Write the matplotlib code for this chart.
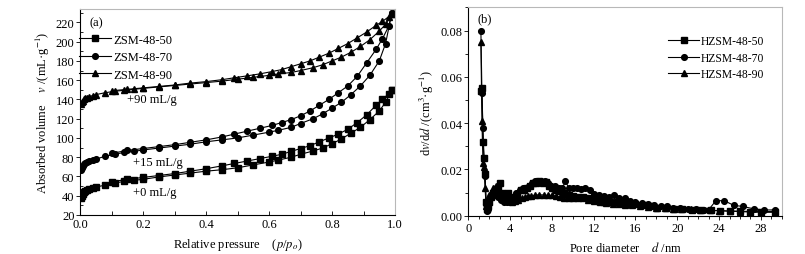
"""
Recreate N2 adsorption isotherms (a) and pore size distribution (b)
"""
import matplotlib
matplotlib.use("Agg")
import matplotlib.pyplot as plt
from matplotlib.ticker import MultipleLocator, FormatStrFormatter

plt.rcParams["font.family"] = ["Liberation Serif", "DejaVu Serif"]
plt.rcParams["mathtext.fontset"] = "stix"
plt.rcParams["font.size"] = 9

# ===== (a) isotherms: adsorption / desorption branches =====
ads_p = [0.002, 0.005, 0.008, 0.012, 0.017, 0.023, 0.03, 0.04, 0.05, 0.08, 0.11, 0.14,
         0.17, 0.2, 0.25, 0.3, 0.35, 0.4, 0.45, 0.5, 0.55, 0.6, 0.63, 0.67, 0.7, 0.74,
         0.77, 0.8, 0.83, 0.86, 0.89, 0.92, 0.95, 0.97, 0.99]
des_p = [0.99, 0.98, 0.96, 0.94, 0.91, 0.88, 0.85, 0.82, 0.79, 0.76, 0.73, 0.7, 0.67,
         0.64, 0.61, 0.57, 0.53, 0.49, 0.45, 0.4, 0.35, 0.3, 0.25, 0.2, 0.15, 0.1]

zsm50_ads = [38, 40, 42, 43.5, 45, 46, 47, 48, 49, 51, 53, 55, 56, 57, 59.5, 61.5, 63.5,
             65.5, 67, 69, 72, 75, 77, 80, 83, 86.5, 89.5, 94, 99, 105, 111, 119, 128, 137, 150]
zsm50_des = [150, 146, 140, 134, 124, 116, 109, 104, 100, 96, 92, 89, 86, 83, 81, 78.5,
             76, 73.5, 71, 68, 65.5, 63, 61, 59, 57, 54.5]

zsm70_ads = [67, 69, 71, 72.5, 74, 75, 76, 77, 78, 81, 83, 85, 86, 87.5, 89.5, 91.5, 93.5,
             96, 98, 100, 103, 106, 108, 111, 115, 120, 125, 131, 137, 145, 154, 165, 180, 198, 230]
zsm70_des = [230, 216, 203, 192, 178, 164, 154, 147, 140, 134, 128, 123, 119, 116, 113,
             110, 107, 104, 101, 98, 95.5, 93, 91, 89, 87, 84]

zsm90_ads = [135, 137, 138.5, 140, 141, 142, 143, 144, 145, 147, 148.5, 149.5, 150.5, 151.5,
             153, 154.5, 156, 157.5, 159, 161, 163, 165, 166.5, 168, 170, 173, 176, 180,
             184, 189, 195, 202, 211, 218, 229]
zsm90_des = [229, 226, 221, 217, 210, 204, 198, 193, 188, 184, 180, 177, 174, 171, 169,
             166.5, 164.5, 162.5, 160.5, 158.5, 157, 155, 153.5, 152, 150.5, 149]

iso_labels = ["ZSM-48-50", "ZSM-48-70", "ZSM-48-90"]
offset_labels = ["+0 mL/g", "+15 mL/g", "+90 mL/g"]

# ===== (b) pore size distribution =====
d50 = [1.2, 1.3, 1.4, 1.5, 1.6, 1.7, 1.8, 1.9, 2.0, 2.2, 2.4, 2.6, 2.8, 3.0, 3.2, 3.5, 3.8,
       4.1, 4.4, 4.7, 5.0, 5.3, 5.6, 5.9, 6.2, 6.5, 6.8, 7.1, 7.4, 7.7, 8.0, 8.4, 8.8, 9.2,
       9.6, 10.0, 10.5, 11.0, 11.5, 12.0, 12.5, 13.0, 13.6, 14.2, 14.8, 15.4, 16.0, 16.7,
       17.4, 18.1, 18.9, 19.7, 20.5, 21.4, 22.3, 23.2, 24.1, 25.0, 26.0, 27.0, 28.0, 29.4]
v50 = [0.054, 0.055, 0.032, 0.025, 0.018, 0.006, 0.003, 0.004, 0.006, 0.008, 0.010, 0.011,
       0.012, 0.014, 0.010, 0.009, 0.010, 0.008, 0.007, 0.009, 0.011, 0.011, 0.012, 0.013,
       0.014, 0.014, 0.015, 0.014, 0.0145, 0.013, 0.012, 0.011, 0.0105, 0.010, 0.009,
       0.0085, 0.0082, 0.008, 0.0078, 0.007, 0.0065, 0.006, 0.006, 0.0058, 0.0055, 0.0052,
       0.005, 0.0045, 0.004, 0.0035, 0.0033, 0.003, 0.0028, 0.0026, 0.0025, 0.0023, 0.0022,
       0.002, 0.002, 0.0018, 0.0018, 0.0018]

d70 = [1.2, 1.3, 1.4, 1.5, 1.6, 1.7, 1.8, 1.9, 2.0, 2.2, 2.5, 2.8, 3.1, 3.4, 3.7, 4.0, 4.3,
       4.6, 4.9, 5.2, 5.5, 5.8, 6.1, 6.4, 6.7, 7.0, 7.3, 7.6, 7.9, 8.3, 8.7, 9.0, 9.3, 9.6,
       10.0, 10.4, 10.8, 11.2, 11.6, 12.0, 12.5, 13.0, 13.5, 13.9, 14.4, 15.0, 15.5, 16.0,
       16.6, 17.2, 17.8, 18.4, 19.0, 19.6, 20.3, 21.0, 21.8, 22.6, 23.0, 23.7, 24.5, 25.4,
       26.3, 27.3, 28.3, 29.4]
v70 = [0.080, 0.053, 0.038, 0.025, 0.017, 0.005, 0.002, 0.003, 0.006, 0.008, 0.009, 0.008,
       0.007, 0.006, 0.006, 0.006, 0.008, 0.010, 0.011, 0.012, 0.012, 0.013, 0.014, 0.015,
       0.015, 0.015, 0.015, 0.014, 0.013, 0.013, 0.012, 0.012, 0.015, 0.012, 0.012, 0.012,
       0.0115, 0.012, 0.011, 0.0095, 0.009, 0.0085, 0.008, 0.009, 0.0075, 0.0075, 0.0065,
       0.006, 0.0055, 0.005, 0.0045, 0.0043, 0.004, 0.0035, 0.0032, 0.003, 0.0028, 0.0025,
       0.0026, 0.0065, 0.0065, 0.0045, 0.004, 0.003, 0.0025, 0.0025]

d90 = [1.2, 1.3, 1.4, 1.5, 1.6, 1.7, 1.8, 1.9, 2.0, 2.2, 2.4, 2.6, 2.8, 3.0, 3.3, 3.6, 3.9,
       4.2, 4.5, 4.8, 5.1, 5.4, 5.7, 6.0, 6.4, 6.8, 7.2, 7.6, 8.0, 8.4, 8.8, 9.2, 9.6, 10.0,
       10.5, 11.0, 11.5, 12.0, 12.6, 13.2, 13.8, 14.4, 15.0, 15.7, 16.4, 17.2, 18.0, 18.8,
       19.6, 20.4, 21.3, 22.2, 23.1, 24.0, 25.0, 26.0, 27.0, 28.0, 29.4]
v90 = [0.075, 0.041, 0.023, 0.021, 0.012, 0.004, 0.003, 0.006, 0.009, 0.010, 0.012, 0.013,
       0.011, 0.009, 0.008, 0.007, 0.0065, 0.006, 0.0065, 0.007, 0.0075, 0.008, 0.0085,
       0.0085, 0.009, 0.009, 0.009, 0.0088, 0.0088, 0.0085, 0.008, 0.0078, 0.0078, 0.0077,
       0.0075, 0.0075, 0.007, 0.0065, 0.006, 0.0055, 0.005, 0.005, 0.0047, 0.0045, 0.004,
       0.0038, 0.0035, 0.0032, 0.003, 0.003, 0.0028, 0.0025, 0.0023, 0.0022, 0.002, 0.0018,
       0.0016, 0.0015, 0.0015]

psd_labels = ["HZSM-48-50", "HZSM-48-70", "HZSM-48-90"]

markers = ["s", "o", "^"]
msizes = [3.7, 4.1, 4.4]

fig = plt.figure(figsize=(8.05, 2.55), dpi=100)
ax1 = fig.add_axes([0.0994, 0.153, 0.3913, 0.808])
ax2 = fig.add_axes([0.5818, 0.150, 0.3893, 0.817])

# ===== 图 (a) =====
ads_sets = [zsm50_ads, zsm70_ads, zsm90_ads]
des_sets = [zsm50_des, zsm70_des, zsm90_des]
for ads, des, mk, ms, lab in zip(ads_sets, des_sets, markers, msizes, iso_labels):
    ax1.plot(ads_p, ads, color="black", lw=0.8, marker=mk, ms=ms, label=lab)
    ax1.plot(des_p, des, color="black", lw=0.8, marker=mk, ms=ms)

ax1.set_xlim(0, 1.0)
ax1.set_ylim(20, 234)
ax1.xaxis.set_major_locator(MultipleLocator(0.2))
ax1.xaxis.set_minor_locator(MultipleLocator(0.1))
ax1.yaxis.set_major_locator(MultipleLocator(20))
ax1.yaxis.set_minor_locator(MultipleLocator(10))
ax1.xaxis.set_major_formatter(FormatStrFormatter("%.1f"))
ax1.tick_params(axis="x", which="both", direction="in", length=3, width=0.6, labelsize=9, pad=2.5)
ax1.tick_params(axis="y", which="major", direction="out", length=3, width=0.6, labelsize=9, pad=1)
ax1.tick_params(axis="y", which="minor", direction="in", length=2, width=0.6)
ax1.set_xlabel(r"Relative pressure    ($p$/$p_o$)", fontsize=9, labelpad=4)
ax1.set_ylabel(r"Absorbed volume    $v$ /(mL·g$^{-1}$)", fontsize=9, labelpad=3)
ax1.text(0.03, 0.965, "(a)", transform=ax1.transAxes, fontsize=9, va="top")

ax1.text(0.168, 44, offset_labels[0], fontsize=9, va="center")
ax1.text(0.168, 75, offset_labels[1], fontsize=9, va="center")
ax1.text(0.149, 140.5, offset_labels[2], fontsize=9, va="center")

ax1.legend(loc="upper left", bbox_to_anchor=(-0.02, 0.905), frameon=False, fontsize=9,
           handlelength=2.6, handletextpad=0.15, labelspacing=0.45, borderaxespad=0)

# ===== 图 (b) =====
psd_x = [d50, d70, d90]
psd_y = [v50, v70, v90]
for x, y, mk, ms, lab in zip(psd_x, psd_y, markers, msizes, psd_labels):
    ax2.plot(x, y, color="black", lw=0.8, marker=mk, ms=ms, label=lab)

ax2.set_xlim(0, 30)
ax2.set_ylim(0, 0.09)
ax2.xaxis.set_major_locator(MultipleLocator(4))
ax2.xaxis.set_minor_locator(MultipleLocator(1))
ax2.yaxis.set_major_locator(MultipleLocator(0.02))
ax2.yaxis.set_minor_locator(MultipleLocator(0.01))
ax2.yaxis.set_major_formatter(FormatStrFormatter("%.2f"))
ax2.tick_params(axis="both", which="major", direction="out", length=3, width=0.6, labelsize=9, pad=1.5)
ax2.tick_params(axis="both", which="minor", direction="out", length=2, width=0.6)
ax2.set_xlabel(r"Pore diameter    $d$ /nm", fontsize=9, labelpad=4)
ax2.set_ylabel(r"d$v$/d$d$ /(cm$^3$·g$^{-1}$)", fontsize=9, labelpad=3)
ax2.text(0.03, 0.975, "(b)", transform=ax2.transAxes, fontsize=9, va="top")

ax2.legend(loc="upper right", bbox_to_anchor=(0.96, 0.89), frameon=False, fontsize=8.4,
           handlelength=2.6, handletextpad=0.2, labelspacing=0.4, borderaxespad=0)

for ax in (ax1, ax2):
    ax.spines["top"].set_color("#b8b8b8")
    ax.spines["right"].set_color("#b8b8b8")
    for s in ("left", "bottom"):
        ax.spines[s].set_linewidth(0.8)

plt.savefig("out.png", dpi=100)
plt.close()
